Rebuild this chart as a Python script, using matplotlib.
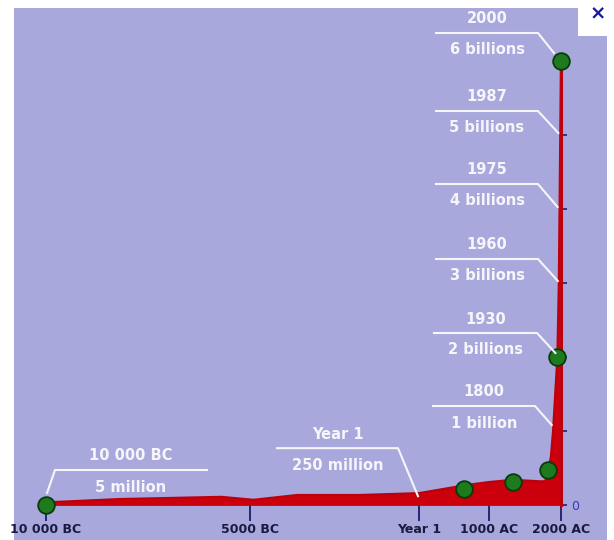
import numpy as np
import matplotlib
matplotlib.use("Agg")
import matplotlib.pyplot as plt
import matplotlib.transforms as mtransforms
from matplotlib.patches import Rectangle
from matplotlib.lines import Line2D

# ---------------- data ----------------
years = [-10000, -9800, -8200, -5700, -4900, -3600, -1750, 1, 680, 1000, 1330,
         1700, 1780, 1820, 1860, 1890, 1950, 1970, 1980, 1990, 2000]
pop_bn = [0.005, 0.04, 0.08, 0.11, 0.07, 0.135, 0.135, 0.16, 0.27, 0.31, 0.34,
          0.32, 0.32, 0.45, 0.65, 1.0, 2.0, 3.0, 4.0, 5.0, 6.0]

dot_years = [-10000, 650, 1330, 1820, 1950, 2000]
dot_pop = [0.0, 0.22, 0.31, 0.47, 2.0, 6.0]

xtick_years = [-10000, -5000, 1, 1000, 2000]
xtick_labels = ["10 000 BC", "5000 BC", "Year 1", "1000 AC", "2000 AC"]
ytick_vals = [0, 1, 2, 3, 4, 5, 6]
ytick_labels = ["0", "", "", "", "", "", ""]

ann_years = ["2000", "1987", "1975", "1960", "1930", "1800", "10 000 BC", "Year 1"]
ann_values = ["6 billions", "5 billions", "4 billions", "3 billions", "2 billions",
              "1 billion", "5 million", "250 million"]
ann_target_year = [2000, 1990, 1980, 1970, 1950, 1885, -10000, 1]
ann_target_pop = [6.0, 5.0, 4.0, 3.0, 2.0, 1.0, 0.0, 0.16]

# ---------------- layout ----------------
W, H = 614, 540
BG = "#a8a8dc"
RED = "#cc000c"
RED_EDGE = "#bc000c"
WHITE = "#f6f6fa"

fig = plt.figure(figsize=(W / 100, H / 100), dpi=100, facecolor="white")

ax = fig.add_axes([14 / W, 0, (607 - 14) / W, (H - 8) / H])
ax.set_facecolor(BG)

# piecewise time scale (pixel breakpoints of the original graphic)
bp_years = [-10800, -10000, -5000, 1, 1000, 2000, 2640]
bp_px = [14, 46, 250, 419, 489, 561, 607]


def fwd(x):
    return np.interp(np.asarray(x, dtype=float), bp_years, bp_px)


def inv(p):
    return np.interp(np.asarray(p, dtype=float), bp_px, bp_years)


ax.set_xscale("function", functions=(fwd, inv))
ax.set_xlim(-10800, 2640)
ax.set_ylim(-(540 - 505) / 74, (505 - 8) / 74)

# area
ax.fill_between(years, -0.012, pop_bn, facecolor=RED, edgecolor="none", zorder=2)
ax.plot(years, pop_bn, color=RED_EDGE, lw=1.6, zorder=2.2, solid_capstyle="butt")
ax.plot([2000, 2000], [0, 6.0], color=RED_EDGE, lw=2.2, zorder=2.2)

# dots
ax.plot(dot_years, dot_pop, linestyle="none", marker="o", markersize=12,
        markerfacecolor="#1d7a1d", markeredgecolor="#0b3a0b",
        markeredgewidth=1.3, zorder=6, clip_on=False)

# axes styling
for s in ["top", "left"]:
    ax.spines[s].set_visible(False)
ax.spines["bottom"].set_position(("data", 0))
ax.spines["bottom"].set_color("none")
ax.spines["right"].set_position(("data", 2000))
ax.spines["right"].set_color("none")

ax.set_xticks(xtick_years)
ax.set_xticklabels(xtick_labels)
ax.tick_params(axis="x", direction="out", length=11.5, width=1.3,
               color="#1c1c6a", pad=1.5, labelsize=9, labelcolor="#1a1a40")
for lab in ax.get_xticklabels():
    lab.set_fontfamily("DejaVu Sans")
    lab.set_fontweight("bold")

ax.yaxis.tick_right()
ax.set_yticks(ytick_vals)
ax.set_yticklabels(ytick_labels)
ax.tick_params(axis="y", direction="out", length=4.5, width=1.3,
               color="#2a2a80", pad=2.5, labelsize=9, labelcolor="#3a3ab8")
ax.tick_params(axis="both", which="minor", length=0)

# ---------------- annotations ----------------
IMG = mtransforms.Affine2D().scale(1, -1).translate(0, H)  # image px -> display

# shelf (x0, x1, drop from end to shelf), connect side, end offset (dx, dy) in image px
shelves = [
    (436, 538, 20, "right", (-7, -8)),
    (436, 538, 22, "right", (-2, -2)),
    (436, 538, 23, "right", (-2, -2)),
    (436, 538, 22, "right", (-1, -2)),
    (434, 537, 20, "right", (-2, -4)),
    (433, 535, 19, "right", (-1, -6)),
    (55, 207, 23, "left", (1, -12)),
    (277, 398, 48, "right", (-1, 3)),
]

fig.canvas.draw()
for yt, vt, tyr, tpop, sh in zip(ann_years, ann_values, ann_target_year,
                                 ann_target_pop, shelves):
    x0, x1, drop, side, (dx, dy) = sh
    dxp, dyp = ax.transData.transform((tyr, tpop))
    tx, ty = dxp, H - dyp
    ex, ey = tx + dx, ty + dy
    sy = ey - drop
    if side == "right":
        xs, ys = [x0, x1, ex], [sy, sy, ey]
    else:
        xs, ys = [x1, x0, ex], [sy, sy, ey]
    fig.add_artist(Line2D(xs, ys, transform=IMG, color=WHITE, lw=1.5,
                          zorder=5, solid_joinstyle="round"))
    cx = (x0 + x1) / 2
    fig.text(cx, sy - 14, yt, transform=IMG, ha="center", va="center",
             color=WHITE, fontsize=10.5, fontweight="bold",
             family="DejaVu Sans", zorder=7)
    fig.text(cx, sy + 17, vt, transform=IMG, ha="center", va="center",
             color=WHITE, fontsize=10.5, fontweight="bold",
             family="DejaVu Sans", zorder=7)

# close box top-right
fig.patches.append(Rectangle((578 / W, 1 - 36 / H), 36 / W, 36 / H,
                             transform=fig.transFigure, facecolor="white",
                             edgecolor="none", zorder=8))
fig.text(598, 14, "×", transform=IMG, ha="center", va="center",
         color="#1a1a9a", fontsize=14, fontweight="bold",
         family="DejaVu Sans", zorder=9)

fig.savefig("out.png", dpi=100, facecolor="white")
